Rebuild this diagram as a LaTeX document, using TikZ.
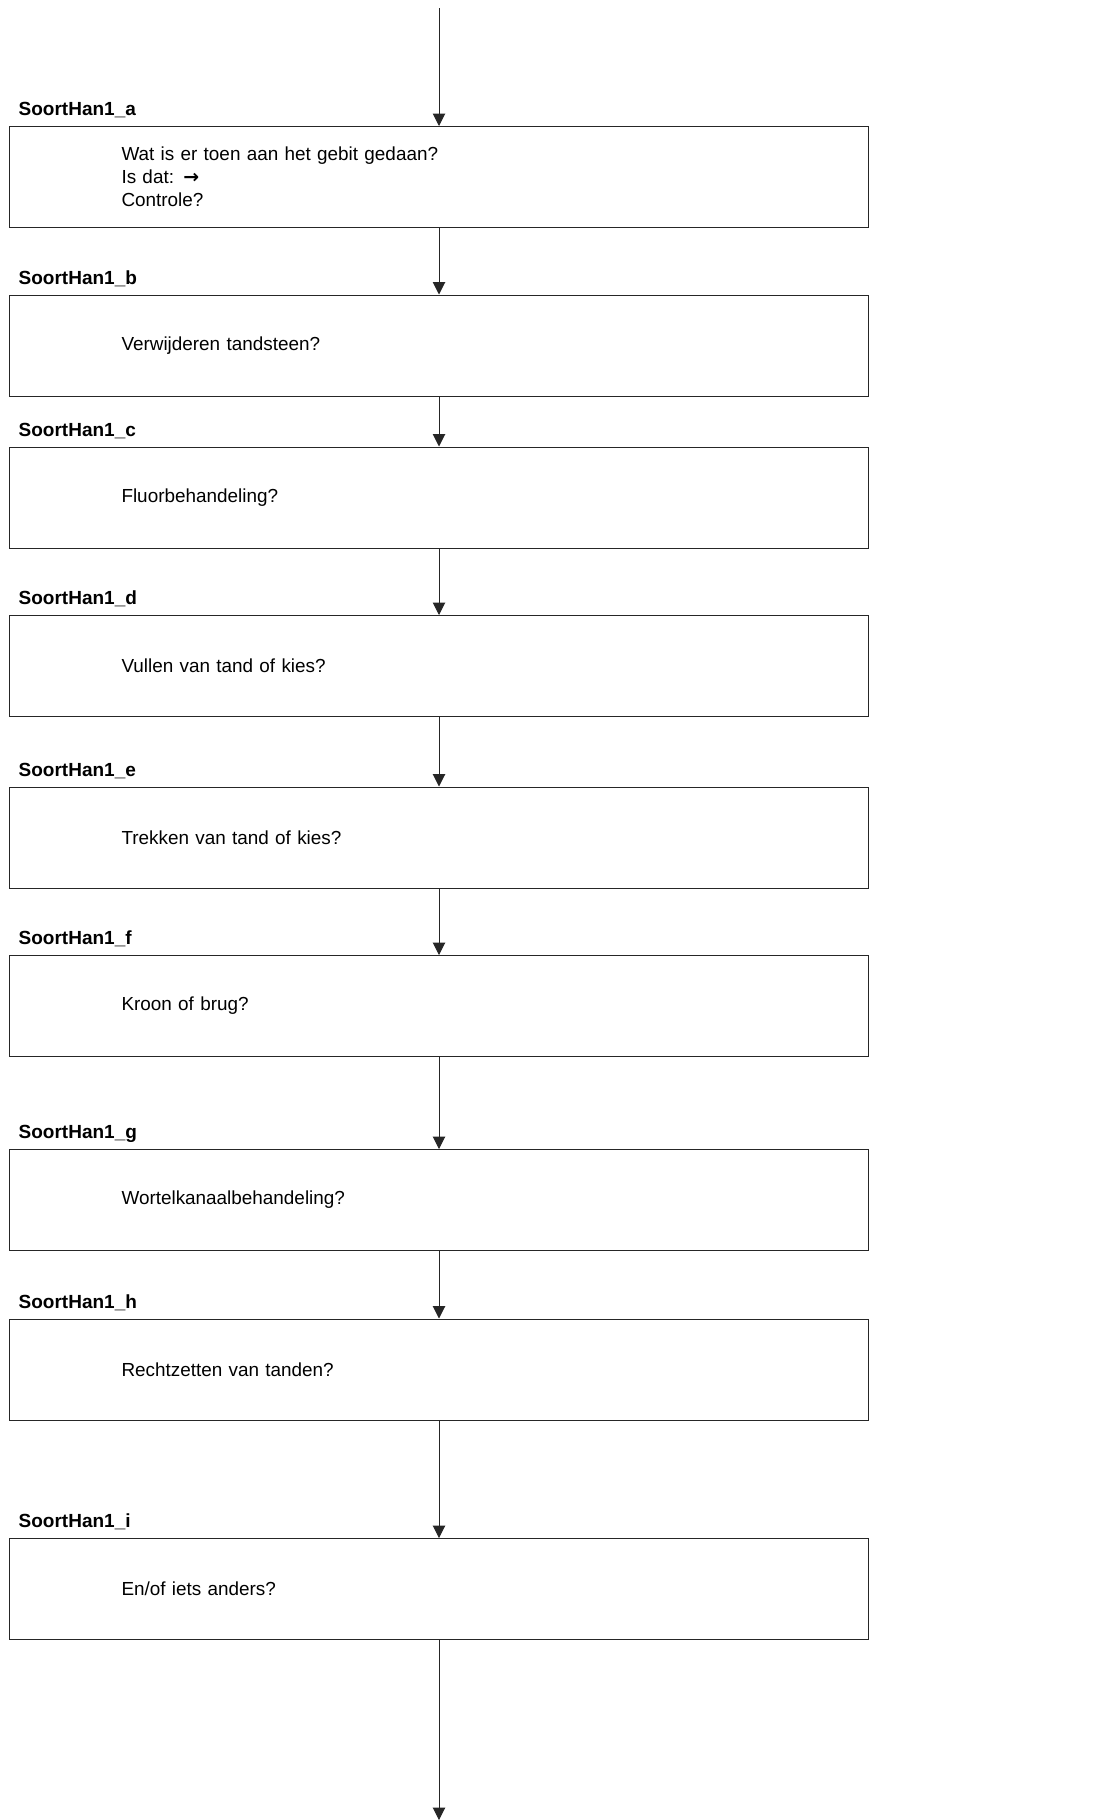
\documentclass[tikz,border=0pt]{standalone}
\usepackage{fontspec}
\setmainfont{Liberation Sans}
\newfontfamily\pijlfont{DejaVu Sans}
\usetikzlibrary{arrows.meta}

\begin{document}
\begin{tikzpicture}[x=1pt,y=-1pt,>={Triangle[width=12.5pt,length=12.5pt]},
    vraag/.style={draw=black!85,line width=1pt,rectangle,minimum width=859pt,minimum height=101pt,
        inner xsep=112pt,text width=635pt,align=left,font=\fontsize{18.9}{23.2}\selectfont},
    naam/.style={anchor=base west,inner sep=0pt,font=\fontsize{19}{23.2}\selectfont\bfseries},
    pijl/.style={->,draw=black!85,line width=1pt}]
    \useasboundingbox (0,0) rectangle (1104,1820);

    \coordinate (start) at (439,8);
    \coordinate (einde) at (439,1820);

    \node[vraag] (A) at (439,177) {Wat is er toen aan het gebit gedaan?\\Is dat: {\pijlfont\bfseries →}\\Controle?};
    \node[vraag] (B) at (439,345.5) {Verwijderen tandsteen?};
    \node[vraag] (C) at (439,497.5) {Fluorbehandeling?};
    \node[vraag] (D) at (439,666) {Vullen van tand of kies?};
    \node[vraag] (E) at (439,837.5) {Trekken van tand of kies?};
    \node[vraag] (F) at (439,1006) {Kroon of brug?};
    \node[vraag] (G) at (439,1200) {Wortelkanaalbehandeling?};
    \node[vraag] (H) at (439,1369.5) {Rechtzetten van tanden?};
    \node[vraag] (I) at (439,1589) {En/of iets anders?};

    \node[naam] (nA) at ([xshift=9.5pt,yshift=10.5pt]A.north west) {SoortHan1\_a};
    \node[naam] (nB) at ([xshift=9.5pt,yshift=10.5pt]B.north west) {SoortHan1\_b};
    \node[naam] (nC) at ([xshift=9.5pt,yshift=10.5pt]C.north west) {SoortHan1\_c};
    \node[naam] (nD) at ([xshift=9.5pt,yshift=10.5pt]D.north west) {SoortHan1\_d};
    \node[naam] (nE) at ([xshift=9.5pt,yshift=10.5pt]E.north west) {SoortHan1\_e};
    \node[naam] (nF) at ([xshift=9.5pt,yshift=10.5pt]F.north west) {SoortHan1\_f};
    \node[naam] (nG) at ([xshift=9.5pt,yshift=10.5pt]G.north west) {SoortHan1\_g};
    \node[naam] (nH) at ([xshift=9.5pt,yshift=10.5pt]H.north west) {SoortHan1\_h};
    \node[naam] (nI) at ([xshift=9.5pt,yshift=10.5pt]I.north west) {SoortHan1\_i};

    \draw[pijl] (start) -- (A);
    \draw[pijl] (A) -- (B);
    \draw[pijl] (B) -- (C);
    \draw[pijl] (C) -- (D);
    \draw[pijl] (D) -- (E);
    \draw[pijl] (E) -- (F);
    \draw[pijl] (F) -- (G);
    \draw[pijl] (G) -- (H);
    \draw[pijl] (H) -- (I);
    \draw[pijl] (I) -- (einde);
\end{tikzpicture}
\end{document}
